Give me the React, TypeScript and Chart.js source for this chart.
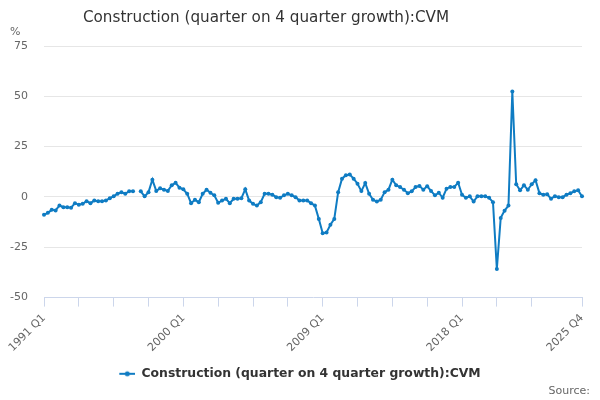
import { Chart, registerables } from "chart.js";
import { useEffect, useRef } from "react";

Chart.register(...registerables);

const titleText = "Construction (quarter on 4 quarter growth):CVM";
const seriesName = "Construction (quarter on 4 quarter growth):CVM";
const lineColor = "#0f7cc3";

// quarterly categories 1991 Q1 .. 2025 Q4
const firstYear = 1991;
const lastYear = 2025;
const quarters: string[] = [];
for (let y = firstYear; y <= lastYear; y++) {
  for (let q = 1; q <= 4; q++) quarters.push(`${y} Q${q}`);
}

// % growth (1997 Q1 missing)
const growth1990s = [
  -8.9, -7.9, -6.4, -6.7, -4.2, -5.1, -5.1, -5.3, -3.1, -3.9,
  -3.4, -2.1, -3.1, -1.8, -2.1, -2.1, -1.8, -0.6, 0.3, 1.6,
  2.3, 1.6, 2.8, 2.8, null, 2.8, 0.3, 2.4, 8.6, 3.0,
  4.3, 3.6, 3.0, 5.8, 7.0, 4.6,
];
const growth2000s = [
  3.8, 1.6, -3.1, -1.4, -2.6, 1.6, 3.6, 2.1, 0.8, -2.9,
  -1.8, -0.9, -3.1, -0.9, -0.9, -0.6, 3.8, -1.8, -3.4, -4.3,
  -2.6, 1.6, 1.6, 1.1, -0.1, -0.4, 0.8, 1.6, 0.8, -0.1,
  -1.8, -1.8, -1.8, -3.1, -4.3, -10.9, -18.0, -17.6, -13.8, -10.9,
];
const growth2010s = [
  2.4, 9.1, 10.8, 11.1, 9.1, 6.6, 2.9, 6.9, 1.6, -1.4,
  -2.3, -1.4, 2.4, 3.6, 8.6, 5.8, 4.9, 3.6, 1.9, 2.8,
  4.9, 5.5, 3.6, 5.3, 3.0, 0.8, 2.1, -0.4, 4.1, 5.0,
  5.0, 7.1, 1.1, -0.4, 0.3, -2.3, 0.4, 0.4, 0.3, -0.4,
];
const growth2020s = [
  -2.6, -35.8, -10.4, -6.8, -4.3, 52.4, 6.3, 3.3, 5.8, 3.6,
  6.3, 8.3, 1.9, 1.1, 1.3, -0.9, 0.4, -0.1, -0.1, 1.1,
  1.9, 2.8, 3.3, 0.3,
];
const growth = [...growth1990s, ...growth2000s, ...growth2010s, ...growth2020s];

const tickLabels = ["1991 Q1", "2000 Q1", "2009 Q1", "2018 Q1", "2025 Q4"];
const tickEvery = 9;
const yMin = -50;
const yMax = 75;
const yStep = 25;

const lastIndex = quarters.length - 1;
const tickPositions: number[] = [];
for (let i = 0; i < lastIndex - tickEvery; i += tickEvery) tickPositions.push(i);
tickPositions.push(lastIndex);

const App = () => {
  const canvasRef = useRef<HTMLCanvasElement | null>(null);

  useEffect(() => {
    if (!canvasRef.current) return;
    document.body.style.margin = "0";
    Chart.defaults.font.family = "'DejaVu Sans', sans-serif";

    // legend symbol: line with a round marker (left part left blank so the
    // legend sits centred like the original)
    const marker = document.createElement("canvas");
    marker.width = 34;
    marker.height = 8;
    const m = marker.getContext("2d");
    if (m) {
      m.strokeStyle = lineColor;
      m.lineWidth = 2;
      m.beginPath();
      m.moveTo(18, 4);
      m.lineTo(34, 4);
      m.stroke();
      m.fillStyle = lineColor;
      m.beginPath();
      m.arc(26, 4, 2.5, 0, Math.PI * 2);
      m.fill();
    }

    const extras = {
      id: "extras",
      afterDraw(chart: Chart) {
        const ctx = chart.ctx;
        ctx.save();
        ctx.fillStyle = "#333333";
        ctx.font = "15.2px 'DejaVu Sans'";
        ctx.textAlign = "center";
        ctx.textBaseline = "middle";
        ctx.fillText(titleText, 266, 18);
        ctx.fillStyle = "#666666";
        ctx.font = "11px 'DejaVu Sans'";
        ctx.textAlign = "left";
        ctx.fillText("%", 10, 32);
        ctx.textAlign = "right";
        ctx.fillText("Source:", 590, 391);
        ctx.restore();
      },
    };

    const chartInstance = new Chart(canvasRef.current, {
      type: "line",
      data: {
        labels: quarters,
        datasets: [
          {
            label: seriesName,
            data: growth,
            borderColor: lineColor,
            backgroundColor: lineColor,
            borderWidth: 2,
            pointRadius: 2,
            pointBorderWidth: 0,
            pointBackgroundColor: lineColor,
            tension: 0,
            spanGaps: false,
          },
        ],
      },
      options: {
        responsive: false,
        animation: false,
        layout: { padding: { top: 46, right: 18, bottom: 10, left: 0 } },
        plugins: {
          title: { display: false },
          tooltip: { enabled: false },
          legend: {
            position: "bottom",
            labels: {
              usePointStyle: true,
              pointStyle: marker,
              pointStyleWidth: 34,
              boxHeight: 8,
              padding: 10,
              color: "#333333",
              font: { size: 12.4, weight: "bold" },
            },
          },
        },
        scales: {
          x: {
            type: "category",
            grid: {
              display: true,
              drawOnChartArea: false,
              drawTicks: true,
              tickLength: 9,
              color: "#ccd6eb",
            },
            border: { display: true, color: "#ccd6eb", width: 1 },
            afterBuildTicks: (scale: any) => {
              scale.ticks = tickPositions.map((v) => ({ value: v }));
            },
            afterFit: (scale: any) => {
              scale.height = 60;
            },
            ticks: {
              autoSkip: false,
              maxRotation: 45,
              minRotation: 45,
              padding: 5,
              color: "#666666",
              font: { size: 11 },
              callback: (value: any) => {
                const lbl = quarters[Number(value)];
                return tickLabels.includes(lbl) ? lbl : "";
              },
            },
          },
          y: {
            min: yMin,
            max: yMax,
            afterFit: (scale: any) => {
              scale.width = 44;
            },
            grid: {
              drawTicks: false,
              color: (ctx: any) => (ctx.tick && ctx.tick.value === yMin ? "rgba(0,0,0,0)" : "#e6e6e6"),
            },
            border: { display: false },
            ticks: {
              stepSize: yStep,
              padding: 16,
              color: "#666666",
              font: { size: 11 },
            },
          },
        },
      },
      plugins: [extras],
    });

    return () => {
      chartInstance.destroy();
    };
  }, []);

  return (
    <div style={{ width: 600, height: 400 }}>
      <canvas ref={canvasRef} width={600} height={400} />
    </div>
  );
};

export default App;
